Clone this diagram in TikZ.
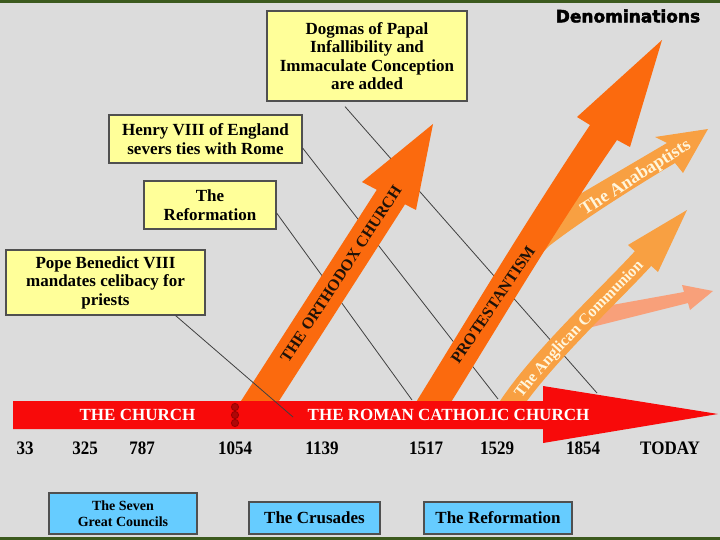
\documentclass[tikz,border=0pt]{standalone}
\usepackage{fontspec}
\setmainfont{Liberation Serif}
\newfontfamily\denomfont{DejaVu Sans}[BoldFeatures={FakeBold=2.5}]
\usetikzlibrary{calc,decorations.text}
\definecolor{bg}{HTML}{DCDCDC}
\definecolor{bargreen}{HTML}{3C5A1E}
\definecolor{yfill}{HTML}{FFFF99}
\definecolor{bfill}{HTML}{66CCFF}
\definecolor{boxline}{HTML}{505050}
\definecolor{leadc}{HTML}{404040}
\definecolor{redA}{HTML}{F80A0A}
\definecolor{orangeD}{HTML}{FB6A0E}
\definecolor{orangeL}{HTML}{F8A042}
\definecolor{salmon}{HTML}{F8A07A}
\definecolor{cream}{HTML}{FFF6DC}
\definecolor{darktxt}{HTML}{1E1208}
\definecolor{ringc}{HTML}{9A0000}
\begin{document}
\begin{tikzpicture}[x=1pt,y=-1pt,
  ybox/.style={draw=boxline, fill=yfill, line width=1.2pt, inner sep=0pt, align=center,
     font=\bfseries\fontsize{17}{18.5}\selectfont},
  bbox/.style={draw=boxline, fill=bfill, line width=1.1pt, inner sep=0pt, align=center,
     font=\bfseries\fontsize{17}{17}\selectfont},
  datelbl/.style={font=\bfseries\fontsize{17}{17}\selectfont, inner sep=0pt, yscale=1.12},
  leader/.style={draw=leadc, line width=0.8pt},
  arrowtxt/.style={font=\bfseries\fontsize{16}{16}\selectfont, text=darktxt, inner sep=0pt},
  ring/.style={draw=ringc, fill=redA!70!black, line width=0.9pt}]
\useasboundingbox (0,0) rectangle (720,540);
\fill[bg] (0,0) rectangle (720,540);
\fill[bargreen] (0,0) rectangle (720,3);
\fill[bargreen] (0,537) rectangle (720,540);

% yellow boxes
\node[ybox, minimum width=200pt, minimum height=90pt] (dogmas) at (367,56)
  {Dogmas of Papal\\Infallibility and\\Immaculate Conception\\are added};
\node[ybox, minimum width=193pt, minimum height=48pt] (henry) at (205.5,139)
  {Henry VIII of England\\severs ties with Rome};
\node[ybox, minimum width=132pt, minimum height=48pt] (reform) at (210,205)
  {The\\Reformation};
\node[ybox, minimum width=199pt, minimum height=65pt] (pope) at (105.5,282.5)
  {Pope Benedict VIII\\mandates celibacy for\\priests};

% leader lines (behind arrows)
\coordinate (reformEnd) at (412,400);
\coordinate (henryEnd) at (498,399);
\coordinate (dogmasEnd) at (597,393);
\coordinate (popeEnd) at (293,417);
\draw[leader] ($(reform.east)+(0,8)$) -- (reformEnd);
\draw[leader] ($(henry.east)+(0,9)$) -- (henryEnd);
\draw[leader] ($(dogmas.south)+(-22,5)$) -- (dogmasEnd);

% salmon arrow
\fill[salmon] (590,309) -- (684,292) -- (682,285) -- (713,291) -- (690,310) -- (688,303) -- (590,327.5) -- cycle;
% Anglican arrow
\draw[orangeL, line width=22pt] (506,412) .. controls (538,361) and (609.4,295.5) .. (644.5,257);
\fill[orangeL] (628,245) -- (687,210) -- (658,272) -- cycle;
% Anabaptist arrow
\fill[orangeL] (570,200) -- (667,143) -- (655,137) -- (708,129) -- (683,173) -- (675,163)
  .. controls (640,184) and (585,218) .. (549,246) -- (540,255) -- cycle;
% Protestantism arrow
\fill[orangeD] (410,412) .. controls (470,315) and (520,230) .. (590,125) -- (577,117) -- (662,40)
  -- (630,147) -- (617,140) .. controls (555,230) and (505,315) .. (445,412) -- cycle;
% Orthodox arrow
\fill[orangeD] (232,415) -- (376.8,189.8) -- (362,182) -- (433,124) -- (416,210) -- (405,204.3) -- (270,415) -- cycle;

% main red arrow
\fill[redA] (13,401) -- (543,401) -- (543,386) -- (718,414) -- (543,443) -- (543,429) -- (13,429) -- cycle;

\draw[leader] ($(pope.south east)+(-30,0)$) -- (popeEnd);

% schism rings
\draw[ring] (235,407) circle[radius=3.6pt];
\draw[ring] (235,415) circle[radius=3.6pt];
\draw[ring] (235,423) circle[radius=3.6pt];

% arrow texts
\node[font=\bfseries\fontsize{17}{17}\selectfont, text=white, inner sep=0pt] (church) at (137.5,415) {THE CHURCH};
\node[font=\bfseries\fontsize{17}{17}\selectfont, text=white, inner sep=0pt] (rcc) at (448.5,415) {THE ROMAN CATHOLIC CHURCH};
\node[arrowtxt, rotate=56.7] (orth) at (341,274) {THE ORTHODOX CHURCH};
\node[arrowtxt, rotate=56] (prot) at (493,305) {PROTESTANTISM};
\node[font=\bfseries\fontsize{18}{18}\selectfont, text=cream, inner sep=0pt, rotate=32.5] (anab) at (636,178) {The Anabaptists};
\path[decorate, decoration={text along path,
   text={|\bfseries\fontsize{16}{16}\selectfont|The Anglican Communion},
   text color=cream, text align={left indent=20pt}, raise=-5.5pt}]
   (506,412) .. controls (538,361) and (609.4,295.5) .. (644.5,257) -- (690,207);

% title
\node[font=\denomfont\bfseries\fontsize{17}{17}\selectfont, inner sep=0pt] (title) at (628,16) {Denominations};

% dates
\node[datelbl] (d33) at (25,448) {33};
\node[datelbl] (d325) at (85,448) {325};
\node[datelbl] (d787) at (142,448) {787};
\node[datelbl] (d1054) at (235,448) {1054};
\node[datelbl] (d1139) at (322,448) {1139};
\node[datelbl] (d1517) at (426,448) {1517};
\node[datelbl] (d1529) at (497,448) {1529};
\node[datelbl] (d1854) at (583,448) {1854};
\node[datelbl] (dtoday) at (670,448) {TODAY};

% blue boxes
\node[bbox, minimum width=148pt, minimum height=41pt, font=\bfseries\fontsize{14}{16}\selectfont] (councils) at (123,513.5)
  {The Seven\\Great Councils};
\node[bbox, minimum width=131pt, minimum height=32pt] (crusades) at (314.5,518) {The Crusades};
\node[bbox, minimum width=148pt, minimum height=32pt] (reformB) at (498,518) {The Reformation};
\end{tikzpicture}
\end{document}
